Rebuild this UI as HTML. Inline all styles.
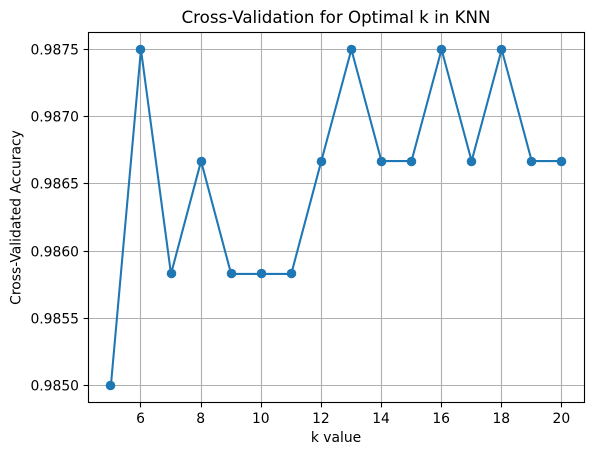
<!DOCTYPE html>
<html>
<head>
<meta charset="utf-8">
<title>Cross-Validation for Optimal k in KNN</title>
<style>
html,body{margin:0;padding:0;background:#fff;width:593px;height:455px;overflow:hidden}
svg{display:block}
text{font-family:"DejaVu Sans",sans-serif;fill:#000}
</style>
</head>
<body>
<svg id="chart" xmlns="http://www.w3.org/2000/svg" width="593" height="455" viewBox="0 0 593 455">
<rect x="0" y="0" width="593" height="455" fill="#fff"/>
<g id="grid"></g>
<g id="series"></g>
<rect x="88.5" y="32.5" width="496" height="370" fill="none" stroke="#000" stroke-width="1.11"/>
<g id="ticks"></g>
<text x="336" y="23" font-size="16.67" text-anchor="middle">Cross-Validation for Optimal k in KNN</text>
<text x="336" y="442" font-size="13.89" text-anchor="middle">k value</text>
<text transform="translate(20.5 217.5) rotate(-90)" font-size="13.89" text-anchor="middle">Cross-Validated Accuracy</text>
</svg>
<script>
const kValues = [5, 6, 7, 8, 9, 10, 11, 12, 13, 14, 15, 16, 17, 18, 19, 20];
const accuracyValues = [0.985, 0.9875, 0.98583, 0.98667, 0.98583, 0.98583, 0.98583, 0.98667, 0.9875, 0.98667, 0.98667, 0.9875, 0.98667, 0.9875, 0.98667, 0.98667];
const xTickValues = [6, 8, 10, 12, 14, 16, 18, 20];
const yTickLabels = ['0.9850', '0.9855', '0.9860', '0.9865', '0.9870', '0.9875'];

const NS = 'http://www.w3.org/2000/svg';
const xScale = k => 140.95 + (k - 6) * 30.06;
const yScale = v => 385.5 - (v - 0.985) * 336 / 0.0025;
const snap = p => Math.floor(p + 1e-6) + 0.5;

const gridGroup = document.getElementById('grid');
const tickGroup = document.getElementById('ticks');
const seriesGroup = document.getElementById('series');

function makeLine(x1, y1, x2, y2, stroke, width) {
  const l = document.createElementNS(NS, 'line');
  l.setAttribute('x1', x1);
  l.setAttribute('y1', y1);
  l.setAttribute('x2', x2);
  l.setAttribute('y2', y2);
  l.setAttribute('stroke', stroke);
  l.setAttribute('stroke-width', width);
  return l;
}

function makeText(x, y, str, anchor) {
  const t = document.createElementNS(NS, 'text');
  t.setAttribute('x', x);
  t.setAttribute('y', y);
  t.setAttribute('font-size', '13.89');
  t.setAttribute('text-anchor', anchor);
  t.textContent = str;
  return t;
}

xTickValues.forEach(k => {
  const x = snap(xScale(k));
  const grid = makeLine(x, 32.5, x, 402.5, '#b0b0b0', 1.11);
  
  
  gridGroup.appendChild(grid);
  const tick = makeLine(x, 402.5, x, 407.4, '#000', 1.11);
  
  
  tickGroup.appendChild(tick);
  const label = makeText(xScale(k) - 0.4, 423, String(k), 'middle');
  
  
  tickGroup.appendChild(label);
});

yTickLabels.forEach(s => {
  const y = snap(yScale(parseFloat(s)));
  const grid = makeLine(88.5, y, 584.5, y, '#b0b0b0', 1.11);
  
  
  gridGroup.appendChild(grid);
  const tick = makeLine(83.6, y, 88.5, y, '#000', 1.11);
  
  
  tickGroup.appendChild(tick);
  const label = makeText(79, y + 5, s, 'end');
  
  
  tickGroup.appendChild(label);
});

const path = document.createElementNS(NS, 'polyline');
path.setAttribute('points', kValues.map((k, i) => xScale(k) + ',' + yScale(accuracyValues[i])).join(' '));
path.setAttribute('fill', 'none');
path.setAttribute('stroke', '#1f77b4');
path.setAttribute('stroke-width', '2.08');
path.setAttribute('stroke-linejoin', 'round');


seriesGroup.appendChild(path);

kValues.forEach((k, i) => {
  const c = document.createElementNS(NS, 'circle');
  c.setAttribute('cx', snap(xScale(k)));
  c.setAttribute('cy', snap(yScale(accuracyValues[i])));
  c.setAttribute('r', '4.8');
  c.setAttribute('fill', '#1f77b4');
  
  
  seriesGroup.appendChild(c);
});
</script>
</body>
</html>
